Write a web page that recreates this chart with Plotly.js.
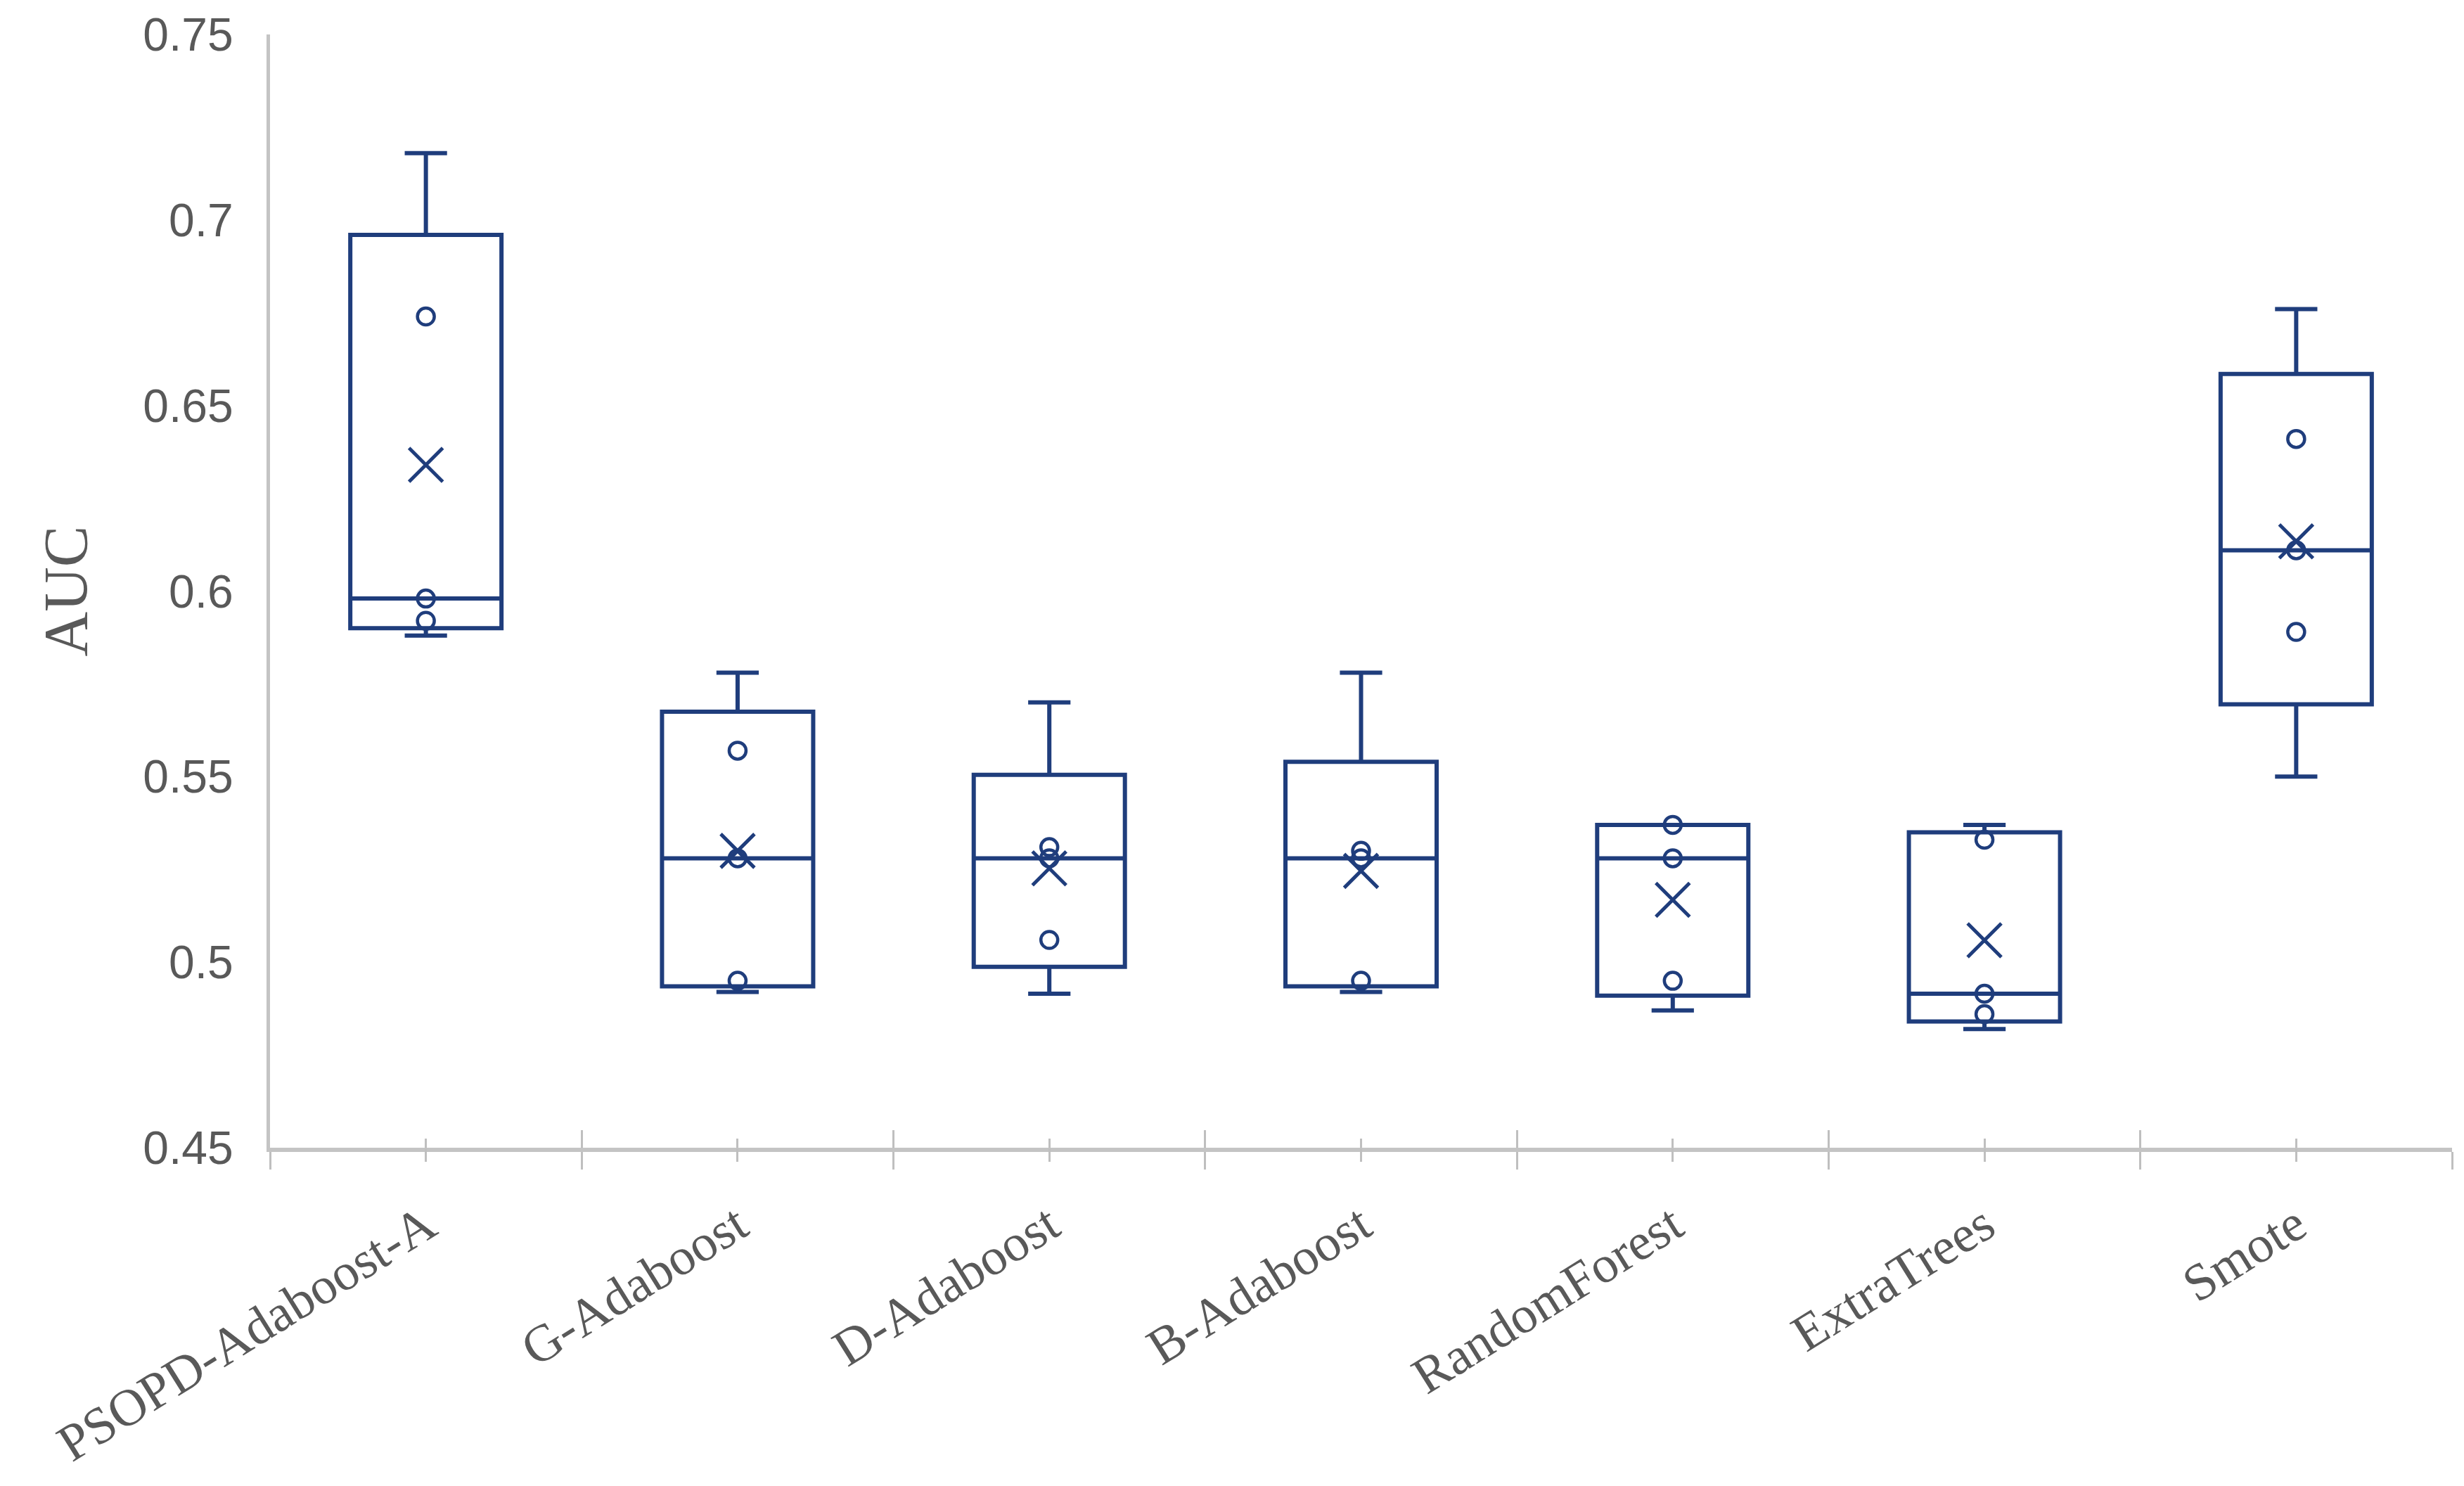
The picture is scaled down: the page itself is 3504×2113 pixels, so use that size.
<!DOCTYPE html>
<html>
<head>
<meta charset="utf-8">
<script src="https://cdn.plot.ly/plotly-3.0.1.min.js"></script>
<style>html,body{margin:0;padding:0;background:#fff;}#chart{width:3504px;height:2113px;}</style>
</head>
<body>
<div id="chart"></div>
<script>
// ---- data (AUC values, 5 runs per method) ----
var categories = ["PSOPD-Adaboost-A", "G-Adaboost", "D-Adaboost", "B-Adaboost", "RandomForest", "ExtraTrees", "Smote"];
var aucPSOPD = [0.588, 0.592, 0.598, 0.674, 0.718];
var aucG = [0.492, 0.495, 0.528, 0.557, 0.578];
var aucD = [0.4915, 0.506, 0.528, 0.531, 0.570];
var aucB = [0.492, 0.495, 0.528, 0.530, 0.578];
var aucRF = [0.487, 0.495, 0.528, 0.537, 0.537];
var aucET = [0.482, 0.486, 0.4915, 0.533, 0.537];
var aucSmote = [0.550, 0.589, 0.611, 0.641, 0.676];
var yTickVals = [0.45, 0.5, 0.55, 0.6, 0.65, 0.7, 0.75];
var yTickText = ["0.45", "0.5", "0.55", "0.6", "0.65", "0.7", "0.75"];

var series = [aucPSOPD, aucG, aucD, aucB, aucRF, aucET, aucSmote];
var navy = "#1f3d7c";
var gray = "#bfbfbf";

var boxX = [], boxY = [], ptX = [], ptY = [], meanY = [];
series.forEach(function (vals, i) {
  var s = vals.slice().sort(function (a, b) { return a - b; });
  s.forEach(function (v) { boxX.push(categories[i]); boxY.push(v); });
  // inner points (exclude min and max)
  s.slice(1, s.length - 1).forEach(function (v) { ptX.push(categories[i]); ptY.push(v); });
  meanY.push(s.reduce(function (a, b) { return a + b; }, 0) / s.length);
});

var n = categories.length;
var boundaries = [], centers = [];
for (var k = 0; k <= n; k++) boundaries.push(k - 0.5);
for (var k2 = 0; k2 < n; k2++) centers.push(k2);

var traces = [
  {
    type: "box", x: boxX, y: boxY, name: "AUC",
    boxpoints: false, quartilemethod: "exclusive",
    width: 0.485, whiskerwidth: 0.28,
    line: { color: navy, width: 6 }, fillcolor: "rgba(0,0,0,0)",
    hoverinfo: "skip", showlegend: false
  },
  {
    type: "scatter", mode: "markers", x: ptX, y: ptY, showlegend: false, hoverinfo: "skip",
    marker: { symbol: "circle-open", size: 24, color: navy, line: { color: navy, width: 4.5 } }
  },
  {
    type: "scatter", mode: "markers", x: categories, y: meanY, showlegend: false, hoverinfo: "skip",
    marker: { symbol: "x-thin-open", size: 48, color: navy, line: { color: navy, width: 5 } }
  },
  { type: "scatter", mode: "markers", x: [null], y: [null], xaxis: "x2", showlegend: false, hoverinfo: "skip" },
  { type: "scatter", mode: "markers", x: [null], y: [null], xaxis: "x3", showlegend: false, hoverinfo: "skip" },
  { type: "scatter", mode: "markers", x: [null], y: [null], xaxis: "x4", showlegend: false, hoverinfo: "skip" }
];

function tickAxis(vals, dir, len) {
  return {
    overlaying: "x", anchor: "y", type: "linear", range: [-0.5, n - 0.5],
    tickmode: "array", tickvals: vals, ticks: dir, ticklen: len, tickwidth: 3, tickcolor: gray,
    showticklabels: false, showline: false, showgrid: false, zeroline: false, fixedrange: true
  };
}

var layout = {
  width: 3504, height: 2113,
  margin: { l: 384, r: 17, t: 49, b: 481 },
  paper_bgcolor: "#ffffff", plot_bgcolor: "#ffffff",
  showlegend: false,
  xaxis: {
    type: "category", categoryorder: "array", categoryarray: categories,
    range: [-0.5, n - 0.5],
    showline: true, linecolor: "#c4c4c4", linewidth: 6,
    ticks: "outside", tickson: "boundaries", ticklen: 25, tickwidth: 3, tickcolor: gray,
    tickangle: -32, ticklabelstandoff: 32,
    tickfont: { family: "Liberation Serif, serif", size: 74, color: "#595959" },
    showgrid: false, zeroline: false, fixedrange: true
  },
  xaxis2: tickAxis(boundaries, "inside", 25),
  xaxis3: tickAxis(centers, "outside", 19),
  xaxis4: tickAxis(centers, "inside", 13),
  yaxis: {
    range: [0.45, 0.75], tickmode: "array", tickvals: yTickVals, ticktext: yTickText,
    showline: true, linecolor: "#c4c4c4", linewidth: 5,
    ticks: "", ticklabelstandoff: 34,
    tickfont: { family: "Liberation Sans, Arial, sans-serif", size: 66, color: "#595959" },
    showgrid: false, zeroline: false, fixedrange: true,
    title: { text: "AUC", standoff: 52, font: { family: "Liberation Serif, serif", size: 88, color: "#595959" } },
    automargin: false
  }
};

Plotly.newPlot("chart", traces, layout, { staticPlot: true, displayModeBar: false });
</script>
</body>
</html>
